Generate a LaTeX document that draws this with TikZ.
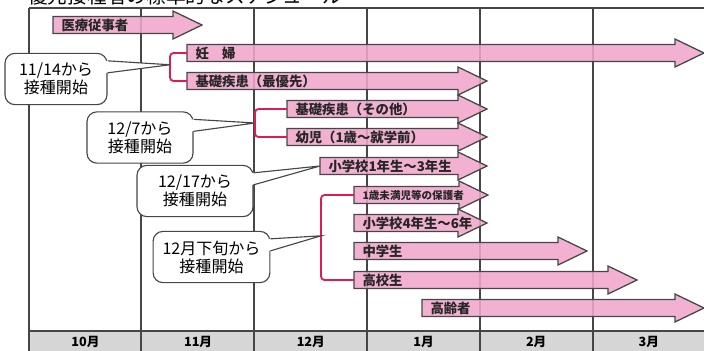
\documentclass[tikz,border=0pt]{standalone}
\usepackage{fontspec}
\setmainfont{Noto Sans CJK JP}
\usetikzlibrary{calc}
\definecolor{barpink}{RGB}{240,166,203}
\definecolor{bracketred}{RGB}{222,28,82}
\definecolor{gridgray}{RGB}{70,70,70}
\definecolor{monthgray}{RGB}{214,214,214}
\tikzset{
    arrowbar/.style={
        draw=gridgray, line width=0.9pt,
        fill=barpink, fill opacity=0.88
    },
    arrowlabel/.style={
        anchor=west, inner sep=3pt, text=black!85,
        font=\fontsize{9.5}{10}\selectfont\bfseries
    },
    gridline/.style={draw=gridgray, line width=0.9pt},
    bracket/.style={draw=bracketred, line width=1.3pt, rounded corners=2.5pt},
    callbox/.style={
        rectangle, draw=gridgray, line width=0.8pt,
        fill=white, rounded corners=7pt,
        minimum height=1.28cm, inner sep=2pt, align=center,
        font=\fontsize{11.4}{12.8}\selectfont
    },
    callline/.style={draw=gridgray, line width=0.8pt},
    month/.style={font=\fontsize{9}{10}\selectfont\bfseries}
}

% arrow: name, start x, tip x, centre y, label
\newcommand{\schedarrow}[5]{%
  \coordinate (#1-s) at (#2,#4);
  \draw[arrowbar] (#2,#4-8.5) -- (#3-29,#4-8.5) -- (#3-29,#4-14) -- (#3,#4)
      -- (#3-29,#4+14) -- (#3-29,#4+8.5) -- (#2,#4+8.5) -- cycle;
  \node[arrowlabel] (#1) at (#2+4,#4) {#5};
}
% pointer of a speech box: box, tip
\newcommand{\boxpointer}[2]{%
  \fill[white] ($(#1.north east)+(-1.5,8)$) -- (#2) -- ($(#1.north east)+(-1.5,20)$) -- cycle;
  \draw[callline] ($(#1.north east)+(0,8)$) -- (#2) -- ($(#1.north east)+(0,20)$);
}

\begin{document}
\begin{tikzpicture}[x=0.025cm, y=-0.025cm]
\useasboundingbox (0,0) rectangle (704,350);

% title (cut off at the top)
\node[anchor=base west, inner sep=0pt, font=\fontsize{14}{16}\selectfont] (title) at (28,3) {優先接種者の標準的なスケジュール};

% month bar
\fill[monthgray] (29,331) rectangle (712,354);
\foreach \m [count=\i] in {10月,11月,12月,1月,2月,3月}
    \node[month] (m\i) at (29+112.7*\i-56.3,342) {\m};

% grid
\draw[gridline] (29,8) -- (712,8);
\draw[gridline] (29,331) -- (712,331);
\foreach \x in {29,141,254,367,480,593}
    \draw[gridline] (\x,8) -- (\x,354);

% arrows
\schedarrow{iryo}{53}{202}{25}{医療従事者}
\schedarrow{ninpu}{187}{704}{53}{妊　婦}
\schedarrow{kiso1}{187}{487}{81}{基礎疾患（最優先）}
\schedarrow{kiso2}{287}{487}{109}{基礎疾患（その他）}
\schedarrow{yoji}{287}{487}{137}{幼児（1歳～就学前）}
\schedarrow{sho1}{320}{487}{166}{小学校1年生～3年生}
\schedarrow{hogo}{354}{488}{195}{\fontsize{7.5}{8}\selectfont 1歳未満児等の保護者}
\schedarrow{sho4}{354}{487}{223}{小学校4年生～6年}
\schedarrow{chu}{354}{587}{251}{中学生}
\schedarrow{kou}{354}{637}{280}{高校生}
\schedarrow{korei}{422}{704}{308}{高齢者}

% brackets
\draw[bracket] (ninpu-s) -- ++(-17,0) |- node[coordinate, pos=0.21] (tipA) {} (kiso1-s);
\draw[bracket] (kiso2-s) -- ++(-32,0) |- node[coordinate, pos=0.25] (tipB) {} (yoji-s);
\draw[bracket] (hogo-s) -- ++(-33,0) |- node[coordinate, pos=0.24] (tipC) {} (kou-s);

% speech boxes
\node[callbox, minimum width=2.55cm] (c1) at (56,79) {11/14から\\接種開始};
\boxpointer{c1}{tipA}
\node[callbox, minimum width=2.65cm] (c2) at (140,137.5) {12/7から\\接種開始};
\boxpointer{c2}{tipB}
\node[callbox, minimum width=2.9cm] (c3) at (195,191) {12/17から\\接種開始};
\boxpointer{c3}{sho1-s}
\node[callbox, minimum width=2.92cm] (c4) at (211.5,257) {12月下旬から\\接種開始};
\boxpointer{c4}{tipC}

\end{tikzpicture}
\end{document}
